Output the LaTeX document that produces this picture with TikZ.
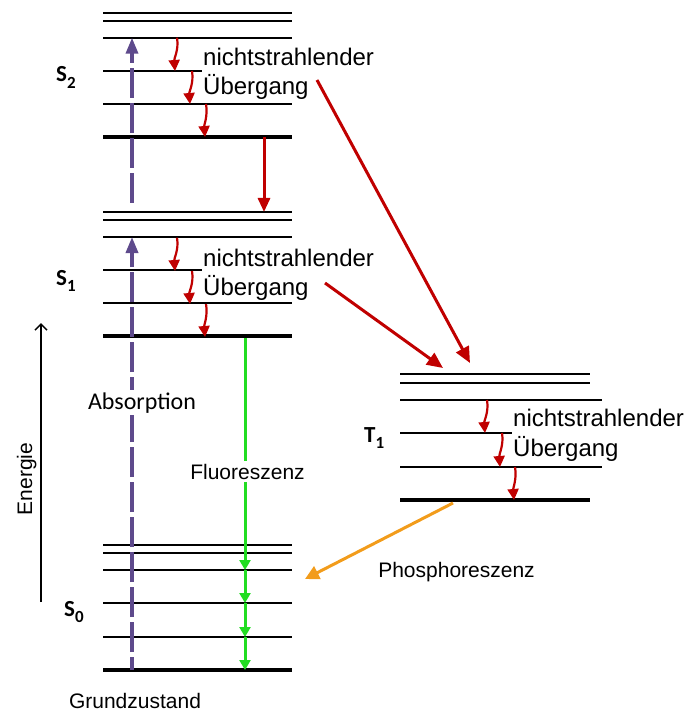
\documentclass[tikz,border=0pt]{standalone}
\usepackage{fontspec}
\setmainfont{Liberation Sans}
\newfontfamily\calib{Carlito}
\usetikzlibrary{arrows.meta}
\definecolor{myred}{HTML}{C00000}
\definecolor{mypurple}{HTML}{5E4A8C}
\definecolor{mygreen}{HTML}{22DD22}
\definecolor{myorange}{HTML}{F29C1B}
\newcommand{\stlbl}[2]{#1\raisebox{-0.3em}{\fontsize{17}{17}\selectfont #2}}
\begin{document}
\begin{tikzpicture}[x=1pt,y=-1pt,
  lvl/.style={line width=2.2pt},
  gnd/.style={line width=4.3pt},
  smallred/.style={myred,line width=2.2pt,-{Triangle[length=11pt,width=11pt]}},
  bigred/.style={myred,line width=3pt,-{Triangle[length=16pt,width=14pt]}},
  greenarr/.style={mygreen,line width=3pt,-{Triangle[length=10pt,width=11pt]}},
  purparr/.style={mypurple,line width=3.5pt},
  lbl/.style={font=\fontsize{21}{21}\selectfont,inner sep=0pt},
  ntlbl/.style={font=\fontsize{24}{24}\selectfont,inner sep=0pt,anchor=base west},
  statelbl/.style={font=\calib\bfseries\fontsize{23}{23}\selectfont,inner sep=0pt,anchor=base west}
]
\useasboundingbox (0,0) rectangle (686,711);
% ---------- S2 levels
\foreach \y in {12.7,21,37.7,104}{\draw[lvl] (103,\y) -- (292,\y);}
\draw[lvl] (103,71) -- (202,71);
\draw[gnd] (103,137) -- (292,137);
% ---------- S1 levels
\foreach \y in {212,220,237,303}{\draw[lvl] (103,\y) -- (292,\y);}
\draw[lvl] (103,270) -- (202,270);
\draw[gnd] (103,336) -- (292,336);
% ---------- S0 levels
\foreach \y in {545,553,570,603,637}{\draw[lvl] (103,\y) -- (292,\y);}
\draw[gnd] (103,670) -- (292,670);
% ---------- T1 levels
\foreach \y in {374,383}{\draw[lvl] (400,\y) -- (590,\y);}
\foreach \y in {400,467}{\draw[lvl] (400,\y) -- (602,\y);}
\draw[lvl] (400,433) -- (512,433);
\draw[gnd] (400,500) -- (590,500);

% ---------- state labels
\node[statelbl] (s2) at (56,82) {\stlbl{S}{2}};
\node[statelbl] (s1) at (56,285) {\stlbl{S}{1}};
\node[statelbl] (s0) at (64,616) {\stlbl{S}{0}};
\node[statelbl] (t1) at (364,442) {\stlbl{T}{1}};

% ---------- nichtstrahlender Übergang labels
\node[ntlbl] (n2a) at (203,66) {nichtstrahlender};
\node[ntlbl] (n2b) at (203,95) {Übergang};
\node[ntlbl] (n1a) at (203,266) {nichtstrahlender};
\node[ntlbl] (n1b) at (203,295) {Übergang};
\node[ntlbl] (nta) at (513,426) {nichtstrahlender};
\node[ntlbl] (ntb) at (513,456) {Übergang};

% ---------- small red non-radiative arrows
\foreach \yo in {0,200}{
  \draw[smallred] (177,37.7+\yo) .. controls (179,50+\yo) and (174,58+\yo) .. (175,71+\yo);
  \draw[smallred] (192,71+\yo) .. controls (194,83+\yo) and (189,92+\yo) .. (190,104+\yo);
  \draw[smallred] (206,104+\yo) .. controls (208,116+\yo) and (204,125+\yo) .. (205,137+\yo);
}
\draw[smallred] (487,400) .. controls (489,412) and (484,421) .. (485,433);
\draw[smallred] (502,433) .. controls (504,445) and (499,454) .. (500,467);
\draw[smallred] (515,467) .. controls (517,479) and (513,488) .. (514,500);

% ---------- internal conversion S2 -> S1
\coordinate (icA) at (264,137);
\coordinate (icB) at (264,212);
\draw[myred,line width=3pt,-{Triangle[length=14pt,width=12pt]}] (icA) -- (icB);

% ---------- intersystem crossing arrows
\coordinate (iscA) at (317,80);
\coordinate (iscAe) at (470,363);
\coordinate (iscB) at (325,283);
\coordinate (iscBe) at (443,368);
\draw[bigred] (iscA) -- (iscAe);
\draw[bigred] (iscB) -- (iscBe);

% ---------- absorption
\coordinate (ab0) at (132,670);
\coordinate (ab1) at (132,237);
\coordinate (ab2) at (132,203);
\coordinate (ab3) at (132,37.7);
\draw[purparr,dash pattern=on 30pt off 5pt,dash phase=17pt] (ab0) -- ([yshift=-9pt]ab1);
\draw[purparr,-{Triangle[length=16pt,width=12pt]}] ([yshift=-10pt]ab1) -- (ab1);
\draw[purparr,dash pattern=on 30pt off 5pt] (ab2) -- ([yshift=-9pt]ab3);
\draw[purparr,-{Triangle[length=16pt,width=12pt]}] ([yshift=-10pt]ab3) -- (ab3);
\node[font=\calib\fontsize{24}{24}\selectfont,fill=white,inner sep=2pt,anchor=base] (abs) at (142,409) {Absorption};

% ---------- fluorescence
\coordinate (f0) at (245,338);
\coordinate (f1) at (245,570);
\coordinate (f2) at (245,603);
\coordinate (f3) at (245,637);
\coordinate (f4) at (245,670);
\draw[greenarr] (f0) -- (f1);
\draw[greenarr] (f1) -- (f2);
\draw[greenarr] (f2) -- (f3);
\draw[greenarr] (f3) -- (f4);
\node[lbl,fill=white,inner sep=3pt,anchor=base] (flu) at (247.5,479) {Fluoreszenz};

% ---------- phosphorescence
\coordinate (ph0) at (453,503);
\coordinate (ph1) at (305,579);
\draw[myorange,line width=3pt,-{Triangle[length=14pt,width=14pt]}] (ph0) -- (ph1);
\node[lbl,anchor=base] (pho) at (456.5,577) {Phosphoreszenz};

% ---------- ground state label
\node[lbl,anchor=base] (gz) at (135,708) {Grundzustand};

% ---------- energy axis
\coordinate (e0) at (41,602);
\coordinate (e1) at (41,323);
\draw[line width=1.5pt,-{Straight Barb[length=6pt,width=12pt]}] (e0) -- (e1);
\node[lbl,rotate=90,anchor=base] (en) at (32,479) {Energie};
\end{tikzpicture}
\end{document}
